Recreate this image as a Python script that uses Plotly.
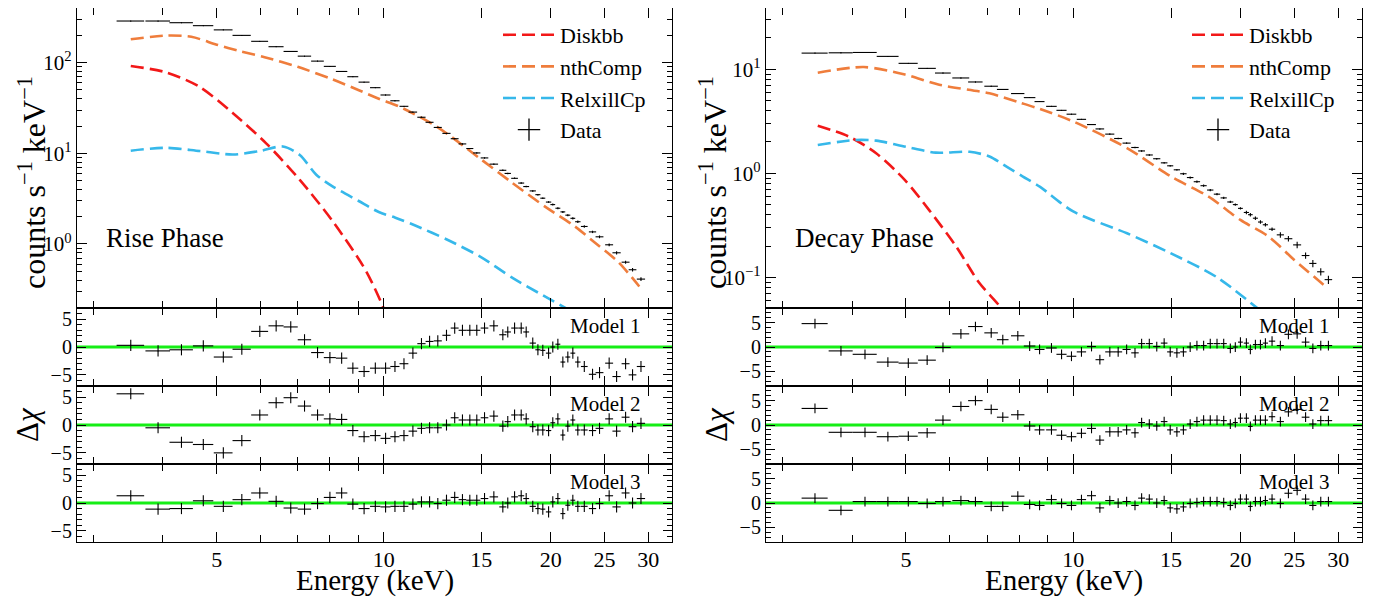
import math
import plotly.graph_objects as go

# ---------------- data: Rise phase ----------------
energy_rise = [3.50, 3.92, 4.32, 4.73, 5.14, 5.55, 5.98, 6.40, 6.80, 7.20,
               7.60, 8.00, 8.40, 8.80, 9.22, 9.66, 10.08, 10.48, 10.88, 11.29,
               11.70, 12.10, 12.52, 12.98, 13.43, 13.87, 14.30, 14.72, 15.20, 15.80,
               16.40, 16.74, 17.22, 17.70, 18.07, 18.57, 18.97, 19.36, 19.83, 20.18,
               20.61, 21.04, 21.48, 21.93, 22.39, 23.0, 23.8, 24.5, 25.5, 26.3,
               27.3, 28.1, 29.1]
halfwidth_rise = [0.20, 0.20, 0.21, 0.20, 0.20, 0.21, 0.21, 0.20, 0.20, 0.20,
                  0.20, 0.20, 0.20, 0.20, 0.21, 0.21, 0.21, 0.20, 0.20, 0.20,
                  0.20, 0.20, 0.21, 0.22, 0.22, 0.22, 0.21, 0.22, 0.24, 0.28,
                  0.24, 0.22, 0.24, 0.22, 0.22, 0.24, 0.20, 0.20, 0.22, 0.20,
                  0.21, 0.21, 0.22, 0.22, 0.25, 0.32, 0.36, 0.40, 0.42, 0.45,
                  0.45, 0.45, 0.50]
flux_rise = [288, 288, 276, 256, 230, 200, 172, 150, 133, 118,
             104, 91, 80, 70, 61, 53, 44, 38, 33, 28.5,
             25, 22, 19.3, 16.6, 14.5, 12.7, 11.3, 10.1, 8.9, 7.6,
             6.5, 6.0, 5.3, 4.7, 4.3, 3.85, 3.5, 3.2, 2.9, 2.72,
             2.48, 2.26, 2.08, 1.92, 1.76, 1.56, 1.36, 1.2, 0.98, 0.80,
             0.63, 0.52, 0.41]
relerr_rise_pct = [1, 1, 1, 1, 1, 1, 1, 1, 1, 1,
                   1, 1, 1, 1, 1, 1, 1, 1, 1, 1,
                   1.5, 1.5, 1.5, 1.5, 1.5, 1.5, 1.5, 1.5, 1.5, 1.5,
                   2, 2, 2, 2, 2, 2, 2, 2, 2, 2.5,
                   2.5, 2.5, 2.5, 3, 3, 3, 3, 3.5, 3.5, 4,
                   4, 4.5, 5]
chi_rise_m1 = [0.3, -0.7, -0.5, 0.2, -1.8, -0.4, 2.8, 3.8, 3.6, 1.3,
               -1.0, -1.9, -2.0, -3.8, -4.4, -3.8, -3.8, -3.5, -3.0, -1.1,
               0.6, 1.0, 1.1, 2.1, 3.4, 3.0, 3.0, 3.0, 3.4, 3.8,
               2.2, 2.7, 3.4, 3.4, 2.7, 0.7, -0.5, -0.6, -1.1, 0.0,
               0.5, -2.7, -1.8, -1.1, -2.7, -3.5, -4.9, -4.6, -2.9, -5.3,
               -3.0, -5.0, -3.5]
chi_rise_m2 = [5.6, -0.5, -3.1, -3.5, -5.0, -2.8, 1.8, 4.0, 4.9, 3.4,
               1.8, 1.1, 1.0, -1.0, -2.1, -1.9, -2.4, -2.1, -1.9, -1.1,
               -0.6, -0.5, -0.5, 0.0, 1.3, 0.9, 0.9, 0.9, 1.3, 1.6,
               -0.2, 0.6, 1.8, 1.8, 1.1, -0.3, -0.9, -0.9, -1.0, 0.4,
               1.1, -1.8, -0.2, 0.9, -0.9, -0.9, -1.0, -0.6, 1.1, -1.1,
               1.4, -0.3, 0.3]
chi_rise_m3 = [1.3, -1.1, -1.0, 0.4, -0.6, 0.6, 1.8, 0.3, -0.9, -1.1,
               -0.1, 1.0, 1.8, -0.2, -1.0, -0.6, -0.7, -0.6, -0.6, -0.2,
               0.2, 0.2, -0.1, 0.5, 1.0, 0.6, 0.5, 0.5, 0.8, 1.1,
               -0.7, 0.0, 1.1, 1.3, 0.8, -0.6, -1.0, -1.1, -1.6, 0.2,
               0.8, -1.9, -0.4, 0.5, -0.6, -0.6, -1.0, -0.1, 1.3, -0.7,
               1.8, 0.0, 0.8]

diskbb_rise_e = [3.5, 4.06, 4.66, 5.35, 6.14, 7.06, 8.1, 9.3, 10.1, 10.6]
diskbb_rise = [92, 78, 54, 27.7, 12.9, 5.1, 1.77, 0.5, 0.17, 0.08]
nthcomp_rise_e = [3.5, 4.06, 4.5, 5.0, 5.5, 6.1, 7.0, 8.06, 9.0, 9.8, 10.7, 12.5,
                  14.9, 17.0, 19.6, 22.0, 24.2, 26.5, 28.9]
nthcomp_rise = [181, 199, 193, 158, 134, 115, 90, 66, 50, 40, 32.5, 19.5,
                8.8, 4.8, 2.55, 1.6, 1.0, 0.63, 0.34]
relxill_rise_e = [3.5, 4.06, 4.66, 5.35, 5.98, 6.58, 7.06, 7.56, 8.1, 9.0, 9.8,
                  10.5, 11.4, 13.0, 14.9, 17.1, 19.0, 21.5]
relxill_rise = [10.7, 11.5, 10.6, 9.7, 10.6, 11.9, 9.6, 5.8, 4.3, 3.0, 2.25,
                1.95, 1.6, 1.12, 0.73, 0.42, 0.29, 0.19]

# ---------------- data: Decay phase ----------------
energy_decay = [3.43, 3.82, 4.22, 4.64, 5.05, 5.46, 5.83, 6.28, 6.67, 7.12,
                7.47, 7.95, 8.35, 8.70, 9.14, 9.53, 9.93, 10.35, 10.79, 11.17,
                11.64, 12.05, 12.48, 12.92, 13.28, 13.71, 14.14, 14.58, 14.95, 15.37,
                15.79, 16.24, 16.70, 17.17, 17.65, 18.15, 18.66, 19.18, 19.58, 20.0,
                20.5, 20.84, 21.28, 21.73, 22.18, 22.8, 23.6, 24.4, 25.3, 26.2,
                27.0, 27.9, 28.8]
halfwidth_decay = [0.185, 0.19, 0.21, 0.21, 0.20, 0.20, 0.19, 0.22, 0.20, 0.20,
                   0.18, 0.22, 0.20, 0.18, 0.20, 0.20, 0.20, 0.20, 0.20, 0.20,
                   0.22, 0.20, 0.21, 0.20, 0.19, 0.20, 0.21, 0.20, 0.19, 0.20,
                   0.21, 0.22, 0.22, 0.22, 0.23, 0.24, 0.24, 0.24, 0.20, 0.20,
                   0.22, 0.20, 0.22, 0.22, 0.24, 0.30, 0.35, 0.40, 0.42, 0.42,
                   0.40, 0.42, 0.45]
flux_decay = [14.3, 14.4, 14.5, 13.3, 11.4, 10.2, 9.2, 8.25, 7.55, 6.87,
              6.40, 5.84, 5.34, 4.89, 4.40, 4.03, 3.70, 3.30, 2.94, 2.67,
              2.38, 2.16, 1.95, 1.77, 1.64, 1.50, 1.38, 1.26, 1.18, 1.08,
              0.99, 0.91, 0.83, 0.76, 0.69, 0.63, 0.58, 0.53, 0.50, 0.46,
              0.42, 0.40, 0.37, 0.34, 0.32, 0.29, 0.256, 0.235, 0.205, 0.162,
              0.136, 0.113, 0.095]
relerr_decay_pct = [1, 1, 1, 1, 1, 1, 1, 1, 1, 1,
                    1, 1, 1, 1, 1, 1, 1, 1, 1, 1,
                    1.5, 1.5, 1.5, 1.5, 1.5, 1.5, 1.5, 1.5, 1.5, 1.5,
                    2.5, 2.5, 2.5, 2.5, 2.5, 2.5, 2.5, 2.5, 2.5, 2.5,
                    4, 4, 4, 4, 4, 4, 6, 6, 7, 7,
                    8, 8, 9]
chi_decay_m1 = [4.8, -0.8, -1.5, -3.1, -3.3, -2.7, -0.1, 2.7, 4.2, 2.9,
                1.5, 2.3, 0.2, -0.5, -0.2, -1.5, -1.9, -1.0, 0.1, -2.6,
                -1.0, -1.0, -0.5, -1.2, 0.7, 0.7, 0.1, 0.8, -1.0, -1.2,
                -1.0, 0.0, 0.3, 0.3, 0.7, 0.7, 0.7, -0.3, 0.0, 1.0,
                0.8, -0.5, 0.5, 0.5, 0.8, 1.2, 0.3, 2.6, 2.7, 1.0,
                -0.3, 0.3, 0.3]
chi_decay_m2 = [3.4, -1.5, -1.5, -2.4, -2.3, -1.6, 1.0, 3.8, 5.0, 3.2,
                1.6, 2.1, -0.2, -1.0, -1.0, -2.1, -2.4, -1.7, -0.7, -3.1,
                -1.4, -1.4, -1.0, -1.6, 0.5, 0.2, -0.2, 0.7, -1.0, -1.4,
                -1.0, 0.2, 0.7, 1.0, 1.0, 1.0, 0.9, 0.2, 0.5, 1.4,
                1.4, -0.3, 1.0, 1.0, 1.0, 1.7, 0.7, 2.7, 3.2, 1.6,
                0.2, 0.9, 0.9]
chi_decay_m3 = [1.0, -1.5, 0.3, 0.3, 0.3, -0.1, 0.3, 0.5, 0.3, -0.7,
                -0.7, 1.4, -0.3, -0.5, 0.7, -0.1, -0.5, 0.7, 1.5, -1.0,
                0.5, 0.0, 0.3, -0.5, 1.0, 0.8, 0.0, 0.5, -1.0, -1.2,
                -0.8, -0.1, 0.1, 0.3, 0.3, 0.3, 0.1, -0.5, -0.1, 0.8,
                0.8, -0.7, 0.3, 0.3, 0.5, 0.8, -0.1, 2.0, 2.6, 0.8,
                -0.5, 0.3, 0.3]

diskbb_decay_e = [3.47, 3.95, 4.42, 4.98, 5.51, 6.16, 6.78, 7.43, 7.8]
diskbb_decay = [2.87, 2.25, 1.56, 0.86, 0.44, 0.197, 0.088, 0.050, 0.03]
nthcomp_decay_e = [3.47, 4.2, 4.98, 5.74, 7.07, 8.0, 8.72, 10.0, 12.5, 15.0,
                   17.5, 20.0, 22.5, 25.0, 28.6]
nthcomp_decay = [9.27, 10.5, 8.9, 7.1, 5.87, 4.8, 4.15, 3.15, 1.75, 0.93,
                 0.6, 0.356, 0.245, 0.147, 0.08]
relxill_decay_e = [3.47, 4.06, 4.42, 5.0, 5.66, 6.51, 7.07, 7.6, 8.12, 8.72,
                   10.0, 12.5, 15.0, 18.1, 21.5]
relxill_decay = [1.87, 2.09, 2.06, 1.80, 1.58, 1.61, 1.45, 1.15, 0.93, 0.74,
                 0.43, 0.265, 0.17, 0.101, 0.05]

# ---------------- labels ----------------
x_tick_vals = [5, 10, 15, 20, 25, 30]
x_tick_text = ["5", "10", "15", "20", "25", "30"]
x_minor_vals = [3, 4, 6, 7, 8, 9]
res_tick_vals = [-5, 0, 5]
res_tick_text = ["\u22125", "0", "5"]
model_labels = ["Model 1", "Model 2", "Model 3"]
component_names = ["Diskbb", "nthComp", "RelxillCp"]

# ---------------- style / geometry ----------------
FONT = "Liberation Serif"
C_RED = "#f21818"
C_ORANGE = "#ef7d3c"
C_CYAN = "#36b8ea"
C_GREEN = "#16ee16"
DASH = "13px,6px"

OFF = 8                      # page body margin
FW, FH = 1376 - OFF, 598 - OFF


def px_x(px):
    return min(1.0, max(0.0, (px - OFF) / FW))


def px_y(py):
    return min(1.0, max(0.0, 1 - (py - OFF) / FH))


XL = [px_x(77), px_x(672)]
XR = [px_x(766), px_x(1362)]
Y_DOMS = [[px_y(308), px_y(8)], [px_y(386), px_y(308)],
          [px_y(464), px_y(386)], [px_y(542), px_y(464)]]
X_RANGE = [math.log10(2.8), math.log10(33.1)]

fig = go.Figure()


def x_axis(domain, anchor, labels):
    return dict(type="log", range=X_RANGE, domain=domain, anchor=anchor,
                tickmode="array", tickvals=x_tick_vals, ticktext=x_tick_text,
                showticklabels=labels, ticks="inside", ticklen=10, tickwidth=1.2,
                tickcolor="black", mirror="allticks", showline=True, linecolor="black",
                linewidth=1.2, showgrid=False, zeroline=False, ticklabelstandoff=-3,
                minor=dict(tickmode="array", tickvals=x_minor_vals, ticks="inside",
                           ticklen=7, tickwidth=1.2, tickcolor="black", showgrid=False),
                tickfont=dict(family=FONT, size=22, color="black"))


def y_top_axis(domain, anchor, yr, vals, texts):
    minor_vals = []
    for d in range(-2, 3):
        for m in range(2, 10):
            minor_vals.append(m * 10 ** d)
    return dict(type="log", range=yr, domain=domain, anchor=anchor,
                tickmode="array", tickvals=vals, ticktext=texts,
                ticks="inside", ticklen=10, tickwidth=1.2, tickcolor="black",
                mirror="allticks", showline=True, linecolor="black", linewidth=1.2,
                showgrid=False, zeroline=False,
                minor=dict(tickmode="array", tickvals=minor_vals, ticks="inside",
                           ticklen=5, tickwidth=1.2, tickcolor="black", showgrid=False),
                tickfont=dict(family=FONT, size=21, color="black"))


def y_res_axis(domain, anchor, lim):
    return dict(range=[-lim, lim], domain=domain, anchor=anchor,
                tickmode="array", tickvals=res_tick_vals, ticktext=res_tick_text,
                ticks="inside", ticklen=9, tickwidth=1.2, tickcolor="black",
                mirror="allticks", showline=True, linecolor="black", linewidth=1.2,
                showgrid=False, zeroline=False,
                minor=dict(dtick=1, ticks="inside", ticklen=5, tickwidth=1.2,
                           tickcolor="black", showgrid=False),
                tickfont=dict(family=FONT, size=20, color="black"))


layout_axes = {}
panels = [
    dict(xdom=XL, left_px=77, right_px=672, first=1, ylim=7, yr=[-0.706, 2.603],
         yv=[1, 10, 100], title_dx=45,
         yt=["10<sup>0</sup>", "10<sup>1</sup>", "10<sup>2</sup>"],
         legend="legend",
         e=energy_rise, hw=halfwidth_rise, f=flux_rise, fe=relerr_rise_pct,
         chis=[chi_rise_m1, chi_rise_m2, chi_rise_m3],
         comps=[(diskbb_rise_e, diskbb_rise, C_RED), (nthcomp_rise_e, nthcomp_rise, C_ORANGE),
                (relxill_rise_e, relxill_rise, C_CYAN)],
         phase="Rise Phase"),
    dict(xdom=XR, left_px=766, right_px=1362, first=5, ylim=8, yr=[-1.295, 1.589],
         yv=[0.1, 1, 10], title_dx=53,
         yt=["10<sup>\u22121</sup>", "10<sup>0</sup>", "10<sup>1</sup>"],
         legend="legend2",
         e=energy_decay, hw=halfwidth_decay, f=flux_decay, fe=relerr_decay_pct,
         chis=[chi_decay_m1, chi_decay_m2, chi_decay_m3],
         comps=[(diskbb_decay_e, diskbb_decay, C_RED), (nthcomp_decay_e, nthcomp_decay, C_ORANGE),
                (relxill_decay_e, relxill_decay, C_CYAN)],
         phase="Decay Phase"),
]

shapes = []
annotations = []
for p in panels:
    n0 = p["first"]
    for k in range(4):
        n = n0 + k
        xa = "xaxis" if n == 1 else f"xaxis{n}"
        ya = "yaxis" if n == 1 else f"yaxis{n}"
        xref = "x" if n == 1 else f"x{n}"
        yref = "y" if n == 1 else f"y{n}"
        layout_axes[xa] = x_axis(p["xdom"], yref, k == 3)
        if k == 0:
            layout_axes[ya] = y_top_axis(Y_DOMS[0], xref, p["yr"], p["yv"], p["yt"])
        else:
            layout_axes[ya] = y_res_axis(Y_DOMS[k], xref, p["ylim"])

    x1 = "x" if n0 == 1 else f"x{n0}"
    y1 = "y" if n0 == 1 else f"y{n0}"
    for (ce, cv, col), name in zip(p["comps"], component_names):
        fig.add_trace(go.Scatter(x=ce, y=cv, mode="lines", name=name,
                                 line=dict(color=col, width=2.6, dash=DASH, shape="spline", smoothing=0.8),
                                 xaxis=x1, yaxis=y1, legend=p["legend"]))
    yerr = [f * pct / 100 for f, pct in zip(p["f"], p["fe"])]
    fig.add_trace(go.Scatter(x=p["e"], y=p["f"], mode="markers", showlegend=False,
                             marker=dict(size=1, color="black"),
                             error_x=dict(type="data", array=p["hw"], color="black", thickness=1.1, width=0),
                             error_y=dict(type="data", array=yerr, color="black", thickness=1.1, width=0),
                             xaxis=x1, yaxis=y1))
    fig.add_trace(go.Scatter(x=[None], y=[None], mode="markers", name="Data",
                             marker=dict(symbol="cross-thin", size=22, color="black",
                                         line=dict(color="black", width=1.3)),
                             xaxis=x1, yaxis=y1, legend=p["legend"]))

    for k, chi in enumerate(p["chis"]):
        n = n0 + k + 1
        xr_, yr_ = f"x{n}", f"y{n}"
        shapes.append(dict(type="line", xref=f"{xr_} domain", x0=0, x1=1, yref=yr_, y0=0, y1=0,
                           line=dict(color=C_GREEN, width=3.2), layer="below"))
        fig.add_trace(go.Scatter(x=p["e"], y=chi, mode="markers", showlegend=False,
                                 marker=dict(size=1, color="black"),
                                 error_x=dict(type="data", array=p["hw"], color="black", thickness=1.1, width=0),
                                 error_y=dict(type="constant", value=1, color="black", thickness=1.1, width=0),
                                 xaxis=xr_, yaxis=yr_))

    lp, rp = p["left_px"], p["right_px"]
    annotations.append(dict(text=p["phase"], xref="paper", yref="paper",
                            x=px_x(lp + 27), y=px_y(238), xanchor="left", yanchor="middle",
                            showarrow=False, font=dict(family=FONT, size=27, color="black")))
    for k, lab in enumerate(model_labels):
        ytop = [308, 386, 464][k]
        annotations.append(dict(text=lab, xref="paper", yref="paper",
                                x=px_x(lp + 528), y=px_y(ytop + 18), xanchor="center",
                                yanchor="middle", showarrow=False,
                                font=dict(family=FONT, size=21, color="black")))
    annotations.append(dict(text="counts s<sup>\u22121</sup> keV<sup>\u22121</sup>",
                            xref="paper", yref="paper", x=px_x(lp - p["title_dx"]), y=px_y(183),
                            textangle=-90, xanchor="center", yanchor="middle", showarrow=False,
                            font=dict(family=FONT, size=32, color="black")))
    annotations.append(dict(text="\u0394<i>\u03c7</i>", xref="paper", yref="paper",
                            x=px_x(lp - 50), y=px_y(425), textangle=-90,
                            xanchor="center", yanchor="middle", showarrow=False,
                            font=dict(family=FONT, size=31, color="black")))
    annotations.append(dict(text="Energy (keV)", xref="paper", yref="paper",
                            x=px_x((lp + rp) / 2), y=px_y(580), xanchor="center",
                            yanchor="middle", showarrow=False,
                            font=dict(family=FONT, size=29, color="black")))

legend_common = dict(xanchor="left", yanchor="top", bgcolor="rgba(0,0,0,0)",
                     font=dict(family=FONT, size=22, color="black"), tracegroupgap=0,
                     itemwidth=52)
fig.update_layout(
    width=FW, height=FH, margin=dict(l=0, r=0, t=0, b=0),
    paper_bgcolor="white", plot_bgcolor="white",
    font=dict(family=FONT, color="black"),
    shapes=shapes, annotations=annotations,
    legend=dict(x=px_x(77 + 421), y=px_y(14), **legend_common),
    legend2=dict(x=px_x(766 + 421), y=px_y(14), **legend_common),
    **layout_axes,
)

fig.write_html("out.html")
